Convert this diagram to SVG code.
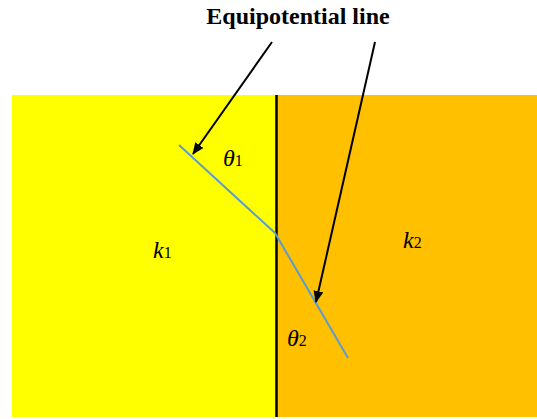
<svg xmlns="http://www.w3.org/2000/svg" width="537" height="419" viewBox="0 0 537 419">
<style>
.title{font-family:"Liberation Serif","Times New Roman",serif;font-weight:bold;font-size:24px;fill:#000}
.lbl{font-family:"Liberation Serif","Times New Roman",serif;font-style:italic;font-size:24px;fill:#000}
.sub{font-style:normal;font-size:16px}
.arr{stroke:#000;stroke-width:2;fill:none;marker-end:url(#ah)}
.eq{stroke:#5b9bd5;stroke-width:2;fill:none}
</style>
<defs>
<marker id="ah" markerWidth="12" markerHeight="10" refX="11" refY="5" orient="auto" markerUnits="userSpaceOnUse" viewBox="0 0 12 10">
<path d="M0,0 L12,5 L0,10 z" fill="#000"/>
</marker>
</defs>
<g id="medium1"><rect x="12" y="95" width="264" height="322" fill="#ffff00"/></g>
<g id="medium2"><rect x="276" y="95" width="261" height="322" fill="#ffc000"/></g>
<g id="boundary"><line x1="276.5" y1="95" x2="276.5" y2="417" stroke="#000" stroke-width="2.5"/></g>
<g id="equipotential"><polyline class="eq" points="179,145 275,233 348,358"/></g>
<g id="connectors">
<line class="arr" x1="272" y1="42" x2="193" y2="154"/>
<line class="arr" x1="375" y1="42" x2="316" y2="302"/>
</g>
<g id="title"><text class="title" x="298" y="24" text-anchor="middle">Equipotential line</text></g>
<g id="theta1"><text class="lbl" x="223" y="166">θ<tspan class="sub">1</tspan></text></g>
<g id="theta2"><text class="lbl" x="287" y="346">θ<tspan class="sub">2</tspan></text></g>
<g id="k1"><text class="lbl" x="153" y="258">k<tspan class="sub">1</tspan></text></g>
<g id="k2"><text class="lbl" x="403" y="248">k<tspan class="sub">2</tspan></text></g>
</svg>
